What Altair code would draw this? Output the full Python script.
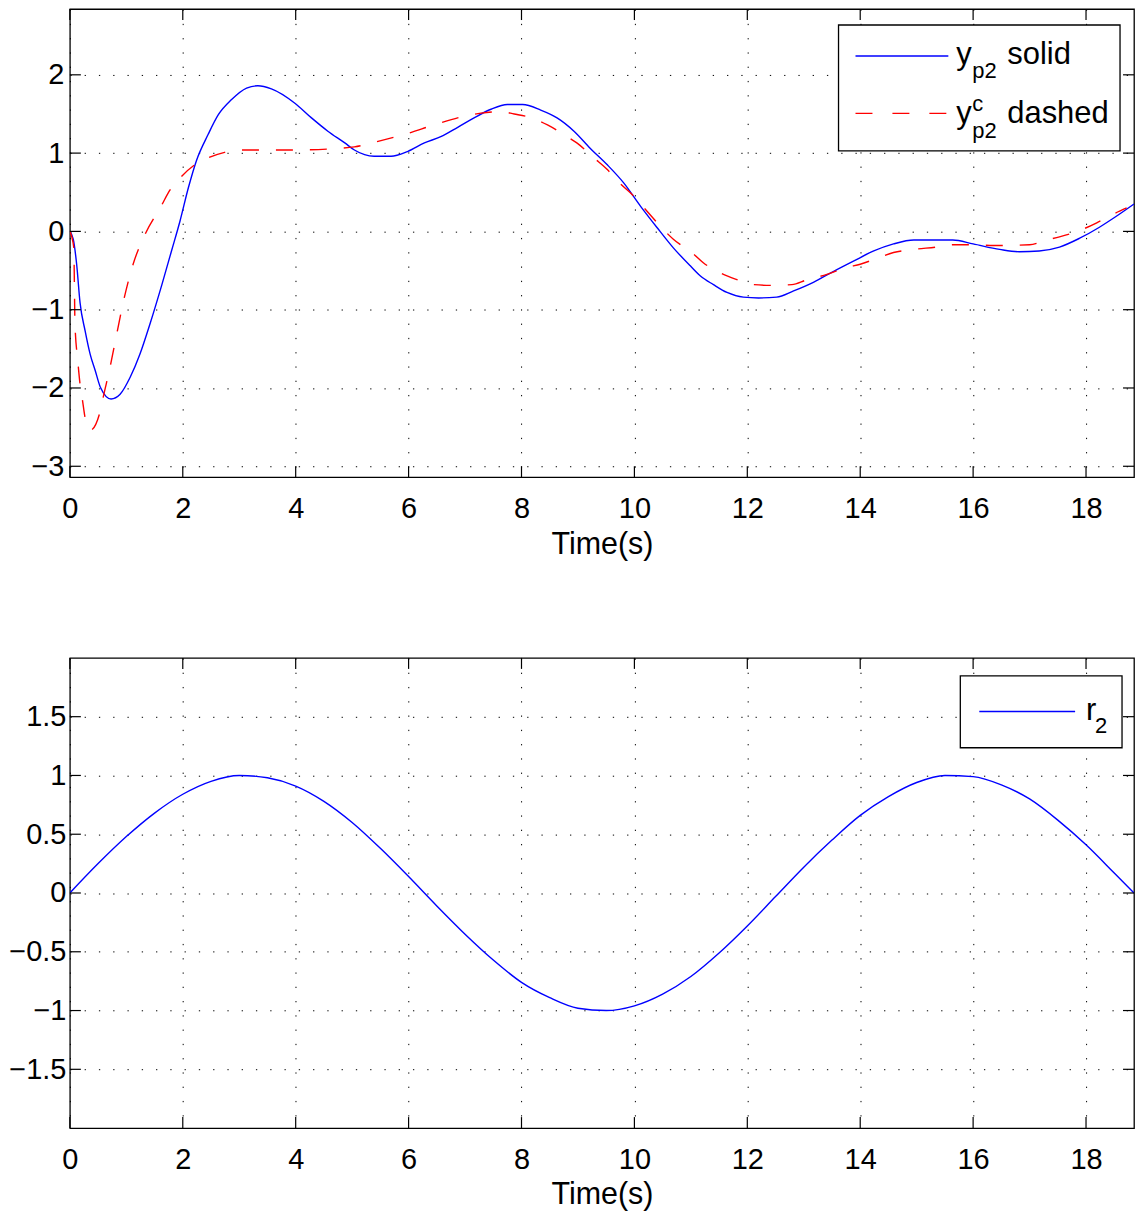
import altair as alt
import pandas as pd

# ---------------- data ----------------
t_yp2 = [0.0, 0.06, 0.12, 0.18, 0.27, 0.36, 0.45, 0.54, 0.73, 0.89, 1.07, 1.24, 1.42, 1.63,
         1.80, 1.95, 2.10, 2.24, 2.45, 2.63, 2.86, 3.13, 3.33, 3.57, 3.98, 4.28, 4.57, 4.87,
         5.04, 5.39, 5.69, 5.98, 6.28, 6.57, 6.87, 7.16, 7.46, 7.75, 8.02, 8.34, 8.63, 8.93,
         9.22, 9.52, 9.81, 10.11, 10.40, 10.69, 10.99, 11.17, 11.40, 11.64, 11.93, 12.20,
         12.52, 12.82, 13.17, 13.53, 13.88, 14.24, 14.59, 14.95, 15.64, 16.0, 16.47, 16.82,
         17.17, 17.53, 17.88, 18.23, 18.53, 18.85]
v_yp2 = [0.0, -0.10, -0.42, -0.91, -1.27, -1.57, -1.78, -1.99, -2.14, -2.08, -1.86, -1.57,
         -1.18, -0.68, -0.25, 0.13, 0.56, 0.90, 1.24, 1.49, 1.68, 1.83, 1.86, 1.82, 1.64, 1.45,
         1.28, 1.13, 1.04, 0.96, 0.96, 1.02, 1.13, 1.21, 1.33, 1.45, 1.56, 1.62, 1.62, 1.55,
         1.45, 1.28, 1.06, 0.85, 0.62, 0.32, 0.05, -0.21, -0.44, -0.57, -0.68, -0.78, -0.84,
         -0.85, -0.84, -0.76, -0.65, -0.51, -0.38, -0.25, -0.16, -0.11, -0.11, -0.16, -0.23,
         -0.26, -0.25, -0.20, -0.09, 0.05, 0.19, 0.35]

t_yc = [0.0, 0.07, 0.08, 0.09, 0.14, 0.18, 0.22, 0.28, 0.36, 0.54, 0.59, 0.71, 0.83, 0.95,
        1.12, 1.33, 1.63, 1.74, 1.95, 2.21, 2.42, 2.74, 3.04, 3.98, 4.75, 5.04, 5.51, 5.98,
        6.45, 6.98, 7.28, 7.63, 7.87, 8.22, 8.46, 8.81, 8.98, 9.28, 9.52, 9.75, 9.99, 10.22,
        10.69, 11.05, 11.22, 11.52, 11.79, 12.11, 12.43, 12.79, 13.05, 13.41, 13.76, 14.0,
        14.24, 14.59, 14.95, 15.36, 15.66, 16.0, 16.36, 17.0, 17.3, 17.53, 17.95, 18.19,
        18.48, 18.72]
v_yc = [0.0, -0.21, -0.68, -1.18, -1.65, -1.95, -2.14, -2.42, -2.54, -2.29, -2.12, -1.74,
        -1.31, -0.89, -0.42, -0.04, 0.34, 0.49, 0.68, 0.85, 0.93, 1.01, 1.04, 1.04, 1.06, 1.08,
        1.16, 1.25, 1.36, 1.47, 1.51, 1.53, 1.50, 1.44, 1.36, 1.21, 1.13, 0.94, 0.79, 0.61,
        0.45, 0.26, -0.10, -0.29, -0.40, -0.53, -0.61, -0.68, -0.69, -0.68, -0.62, -0.55,
        -0.46, -0.42, -0.36, -0.27, -0.23, -0.20, -0.17, -0.17, -0.18, -0.17, -0.11, -0.07,
        0.03, 0.11, 0.22, 0.30]

t_r2 = [0.0, 0.5, 1.0, 1.5, 2.0, 2.5, 3.0, 3.5, 4.0, 4.5, 5.0, 5.5, 6.0, 6.5, 7.0, 7.5, 8.0,
        8.5, 9.0, 9.5, 10.0, 10.5, 11.0, 11.5, 12.0, 12.5, 13.0, 13.5, 14.0, 14.5, 15.0, 15.5,
        16.0, 16.5, 17.0, 17.5, 18.0, 18.5, 18.85]
v_r2 = [0.0, 0.25, 0.48, 0.68, 0.84, 0.95, 1.0, 0.98, 0.91, 0.78, 0.60, 0.38, 0.14, -0.11,
        -0.35, -0.57, -0.76, -0.89, -0.98, -1.0, -0.96, -0.86, -0.71, -0.51, -0.28, -0.03,
        0.22, 0.45, 0.66, 0.82, 0.94, 1.0, 0.99, 0.92, 0.80, 0.62, 0.41, 0.17, 0.0]

x_ticks = [0, 2, 4, 6, 8, 10, 12, 14, 16, 18]
top_yticks = [-3, -2, -1, 0, 1, 2]
bot_yticks = [-1.5, -1, -0.5, 0, 0.5, 1, 1.5]

XDOM = [0, 18.85]
TOP_YDOM = [-3.14, 2.84]
BOT_YDOM = [-2.0, 2.0]

FONT = "Liberation Sans"
W = 1066
H1 = 469
H2 = 471
TICK = 11
BLUE = "#0000ff"
RED = "#ff0000"

one = pd.DataFrame({"k": [0]})


def xscale():
    return alt.Scale(domain=XDOM, nice=False, zero=False)


def yscale(dom):
    return alt.Scale(domain=dom, nice=False, zero=False)


def x_axis():
    return alt.Axis(values=x_ticks, title="Time(s)", format="d", grid=True,
                    gridDash=[1.3, 13], gridColor="black", gridWidth=1, gridOpacity=1,
                    domain=False, ticks=False, labelFont=FONT, labelFontSize=29,
                    labelColor="black", labelPadding=17, labelFlush=False,
                    titleFont=FONT, titleFontSize=30.5, titleFontWeight="normal",
                    titleColor="black", titlePadding=6)


def y_axis(vals, pad):
    return alt.Axis(values=vals, title=None, format="~g", grid=True,
                    gridDash=[1.3, 13], gridColor="black", gridWidth=1, gridOpacity=1,
                    domain=False, ticks=False, labelFont=FONT, labelFontSize=29,
                    labelColor="black", labelPadding=pad, labelFlush=False)


def tick_layers(ydom, yticks, ypad, H):
    xt = pd.DataFrame({"t": x_ticks})
    yt = pd.DataFrame({"v": yticks})
    base_x = alt.Chart(xt).mark_rule(color="black", strokeWidth=1.2)
    base_y = alt.Chart(yt).mark_rule(color="black", strokeWidth=1.2)
    X = alt.X("t:Q", scale=xscale(), axis=x_axis())
    Y = alt.Y("v:Q", scale=yscale(ydom), axis=y_axis(yticks, ypad))
    return [
        base_x.encode(x=X, y=alt.value(H - TICK), y2=alt.value(H)),
        base_x.encode(x=X, y=alt.value(0), y2=alt.value(TICK)),
        base_y.encode(y=Y, x=alt.value(0), x2=alt.value(TICK)),
        base_y.encode(y=Y, x=alt.value(W - TICK), x2=alt.value(W)),
    ]


def txt(s, x, y, size):
    return alt.Chart(one).mark_text(text=s, align="left", baseline="alphabetic",
                                    font=FONT, fontSize=size, color="black").encode(
        x=alt.value(x), y=alt.value(y))


# ---------------- top panel ----------------
df_y = pd.DataFrame({"t": t_yp2, "v": v_yp2})
df_c = pd.DataFrame({"t": t_yc, "v": v_yc})

TX = alt.X("t:Q", scale=xscale(), axis=x_axis())
TY = alt.Y("v:Q", scale=yscale(TOP_YDOM), axis=y_axis(top_yticks, 6))

line_y = alt.Chart(df_y).mark_line(color=BLUE, strokeWidth=1.4, clip=True,
                                   interpolate="monotone").encode(x=TX, y=TY)
line_c = alt.Chart(df_c).mark_line(color=RED, strokeWidth=1.4, clip=True,
                                   strokeDash=[17, 17], interpolate="monotone").encode(x=TX, y=TY)

L = 69
leg_top = [
    alt.Chart(one).mark_rect(fill="white", stroke="black", strokeWidth=1.3).encode(
        x=alt.value(839 - L), x2=alt.value(1121 - L), y=alt.value(16), y2=alt.value(142)),
    alt.Chart(one).mark_rule(color=BLUE, strokeWidth=1.4).encode(
        x=alt.value(856 - L), x2=alt.value(949 - L), y=alt.value(47)),
    alt.Chart(one).mark_rule(color=RED, strokeWidth=1.4, strokeDash=[17, 20]).encode(
        x=alt.value(856 - L), x2=alt.value(949 - L), y=alt.value(104.5)),
    txt("y", 957 - L, 55.5, 31),
    txt("p2", 973 - L, 68.7, 22),
    txt("solid", 1008 - L, 55.5, 31),
    txt("y", 957 - L, 114, 31),
    txt("c", 973 - L, 102, 22),
    txt("p2", 973 - L, 128.7, 22),
    txt("dashed", 1008 - L, 114, 31),
]

top = alt.layer(line_y, line_c, *tick_layers(TOP_YDOM, top_yticks, 6, H1), *leg_top).properties(
    width=W, height=H1)

# ---------------- bottom panel ----------------
df_r = pd.DataFrame({"t": t_r2, "v": v_r2})
line_r = alt.Chart(df_r).mark_line(color=BLUE, strokeWidth=1.4, clip=True,
                                   interpolate="monotone").encode(
    x=alt.X("t:Q", scale=xscale(), axis=x_axis()),
    y=alt.Y("v:Q", scale=yscale(BOT_YDOM), axis=y_axis(bot_yticks, 4)))

leg_bot = [
    alt.Chart(one).mark_rect(fill="white", stroke="black", strokeWidth=1.3).encode(
        x=alt.value(961 - L), x2=alt.value(1123 - L), y=alt.value(18), y2=alt.value(90)),
    alt.Chart(one).mark_rule(color=BLUE, strokeWidth=1.4).encode(
        x=alt.value(980 - L), x2=alt.value(1076 - L), y=alt.value(53.7)),
    txt("r", 1087 - L, 62, 31),
    txt("2", 1096 - L, 75, 22),
]

bottom = alt.layer(line_r, *tick_layers(BOT_YDOM, bot_yticks, 4, H2), *leg_bot).properties(
    width=W, height=H2)

chart = alt.vconcat(top, bottom, spacing=181, bounds="flush").properties(
    padding={"left": 8, "top": 6, "right": 2, "bottom": 2},
    background="white",
).configure_view(stroke="black", strokeWidth=1.3)

chart.save("out.html", embed_options={"renderer": "svg", "actions": False})
